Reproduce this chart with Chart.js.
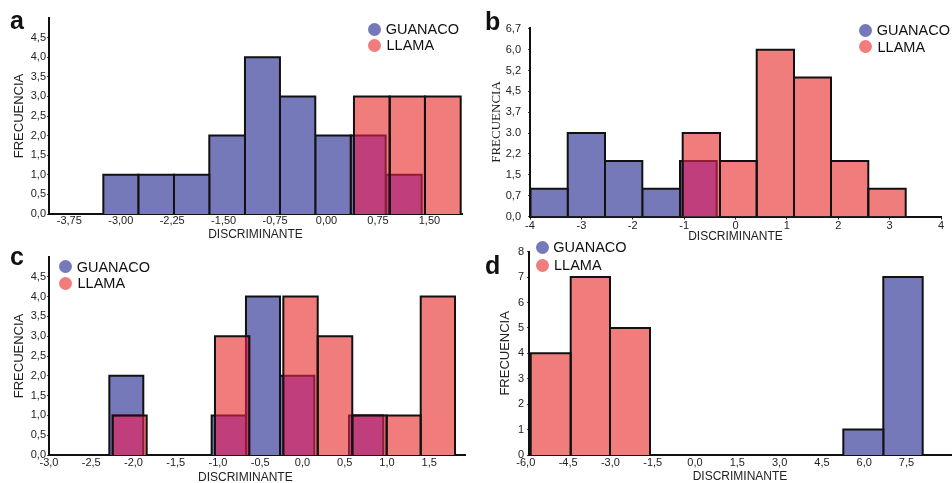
<!DOCTYPE html>
<html>
<head>
<meta charset="utf-8">
<script src="https://cdn.jsdelivr.net/npm/chart.js@4.4.1/dist/chart.umd.min.js"></script>
<style>
  body { margin: 0; width: 952px; height: 483px; overflow: hidden; background: #fff; position: relative; font-family: Arial, "Liberation Sans", sans-serif; }
  canvas { position: absolute; left: 0; top: 0; }
  .letter { position: absolute; font-size: 25px; line-height: 25px; font-weight: bold; color: #111; }
  .dot { position: absolute; width: 13px; height: 13px; border-radius: 50%; }
  .key { position: absolute; font-size: 14.5px; line-height: 14.5px; color: #111; white-space: nowrap; }
</style>
</head>
<body>
<canvas id="chart-a" width="952" height="500"></canvas>
<canvas id="chart-b" width="952" height="500"></canvas>
<canvas id="chart-c" width="952" height="500"></canvas>
<canvas id="chart-d" width="952" height="500"></canvas>
<script>
// panel a
const aXTicks = [-3.75, -3, -2.25, -1.5, -0.75, 0, 0.75, 1.5]
const aXLabels = ['-3,75', '-3,00', '-2,25', '-1,50', '-0,75', '0,00', '0,75', '1,50']
const aYTicks = [0, 0.5, 1, 1.5, 2, 2.5, 3, 3.5, 4, 4.5]
const aYLabels = ['0,0', '0,5', '1,0', '1,5', '2,0', '2,5', '3,0', '3,5', '4,0', '4,5']
const aGuanacoEdges = [-3.254, -2.744, -2.224, -1.709, -1.189, -0.679, -0.164, 0.352, 0.862, 1.387]
const aGuanacoCounts = [1, 1, 1, 2, 4, 3, 2, 2, 1]
const aLlamaEdges = [0.4, 0.921, 1.435, 1.956]
const aLlamaCounts = [3, 3, 3]

// panel b
const bXTicks = [-4, -3, -2, -1, 0, 1, 2, 3, 4]
const bXLabels = ['-4', '-3', '-2', '-1', '0', '1', '2', '3', '4']
const bYTicks = [0, 0.75, 1.5, 2.25, 3, 3.75, 4.5, 5.25, 6, 6.75]
const bYLabels = ['0,0', '0,7', '1,5', '2,2', '3.0', '3,7', '4,5', '5,2', '6,0', '6,7']
const bGuanacoEdges = [-3.99, -3.266, -2.54, -1.814, -1.08, -0.366]
const bGuanacoCounts = [1, 3, 2, 1, 2]
const bLlamaEdges = [-1.028, -0.302, 0.413, 1.139, 1.859, 2.585, 3.313]
const bLlamaCounts = [3, 2, 6, 5, 2, 1]

// panel c
const cXTicks = [-3, -2.5, -2, -1.5, -1, -0.5, 0, 0.5, 1, 1.5]
const cXLabels = ['-3,0', '-2,5', '-2,0', '-1,5', '-1,0', '-0,5', '0,0', '0,5', '1,0', '1,5']
const cYTicks = [0, 0.5, 1, 1.5, 2, 2.5, 3, 3.5, 4, 4.5]
const cYLabels = ['0,0', '0,5', '1,0', '1,5', '2,0', '2,5', '3,0', '3,5', '4,0', '4,5']
const cGuanacoEdges = [-2.286, -1.884, -1.478, -1.075, -0.669, -0.266, 0.14, 0.55, 0.956]
const cGuanacoCounts = [2, 0, 0, 1, 4, 2, 0, 1]
const cLlamaEdges = [-2.246, -1.844, -1.438, -1.036, -0.63, -0.227, 0.18, 0.589, 0.996, 1.399, 1.805]
const cLlamaCounts = [1, 0, 0, 3, 0, 4, 3, 1, 1, 4]

// panel d
const dXTicks = [-6, -4.5, -3, -1.5, 0, 1.5, 3, 4.5, 6, 7.5]
const dXLabels = ['-6,0', '-4,5', '-3,0', '-1,5', '0,0', '1,5', '3,0', '4,5', '6,0', '7,5']
const dYTicks = [0, 1, 2, 3, 4, 5, 6, 7, 8]
const dYLabels = ['0', '1', '2', '3', '4', '5', '6', '7', '8']
const dGuanacoEdges = [5.259, 6.677, 8.074]
const dGuanacoCounts = [1, 7]
const dLlamaEdges = [-5.826, -4.408, -3.014, -1.596]
const dLlamaCounts = [4, 7, 5]

const BLUE = '#7579b9'
const RED = '#f07c7c'
const MIX = '#c03e7b'
const MIX_EDGE = '#8e1d35'
const SANS = 'Arial, "Liberation Sans", sans-serif'
const SERIF = '"Liberation Serif", "Times New Roman", serif'

function bins(edges, counts) {
  const out = []
  counts.forEach((c, i) => {
    if (c > 0) out.push({ x0: edges[i], x1: edges[i + 1], h: c })
  })
  return out
}

// where a llama bin sits over a guanaco bin
function overlaps(gs, ls) {
  const out = []
  gs.forEach(g => ls.forEach(l => {
    const x0 = Math.max(g.x0, l.x0)
    const x1 = Math.min(g.x1, l.x1)
    if (x1 > x0) out.push({ x0: x0, x1: x1, h: Math.min(g.h, l.h) })
  }))
  return out
}

function barSet(b, fillColor, edgeColor, order) {
  return {
    data: [{ x: b.x0, y: 0 }, { x: b.x0, y: b.h }, { x: b.x1, y: b.h }, { x: b.x1, y: 0 }],
    borderColor: edgeColor || 'rgba(0,0,0,0)',
    borderWidth: edgeColor ? 2 : 0,
    backgroundColor: fillColor || 'rgba(0,0,0,0)',
    fill: fillColor ? 'origin' : false,
    pointRadius: 0,
    tension: 0,
    borderJoinStyle: 'miter',
    order: order
  }
}

function panel(id, p) {
  const g = bins(p.gEdges, p.gCounts)
  const l = bins(p.lEdges, p.lCounts)
  const datasets = [
    ...g.map(b => barSet(b, BLUE, '#111', 4)),
    ...l.map(b => barSet(b, RED, null, 3)),
    ...overlaps(g, l).map(b => barSet(b, MIX, MIX_EDGE, 2)),
    ...l.map(b => barSet(b, null, '#111', 1))
  ]
  new Chart(document.getElementById(id), {
    type: 'line',
    data: { datasets: datasets },
    options: {
      responsive: false,
      animation: false,
      events: [],
      layout: { padding: p.pad },
      plugins: { legend: { display: false }, tooltip: { enabled: false } },
      scales: {
        x: {
          type: 'linear',
          min: p.xMin,
          max: p.xMax,
          afterBuildTicks: s => { s.ticks = p.xTicks.map(v => ({ value: v })) },
          afterFit: s => { s.height = p.xH },
          grid: { display: p.xTickLen > 0, drawOnChartArea: false, tickLength: p.xTickLen, color: '#222' },
          border: { display: true, color: '#111', width: 2 },
          ticks: {
            autoSkip: false, maxRotation: 0, padding: p.xPad, color: '#222',
            font: { family: SANS, size: 11 },
            callback: (v, i) => p.xLabels[i]
          },
          title: { display: true, text: p.xTitle || 'DISCRIMINANTE', color: '#222', padding: 0, font: { family: SANS, size: 12 } }
        },
        y: {
          type: 'linear',
          min: 0,
          max: p.yMax,
          afterBuildTicks: s => { s.ticks = p.yTicks.map(v => ({ value: v })) },
          afterFit: s => { s.width = p.yW },
          grid: { display: true, drawOnChartArea: false, tickLength: 2, color: '#444' },
          border: { display: true, color: '#111', width: 2 },
          ticks: {
            autoSkip: false, padding: p.yPad, color: '#222',
            font: { family: SANS, size: 11 },
            callback: (v, i) => p.yLabels[i]
          },
          title: { display: true, text: 'FRECUENCIA', color: '#222', padding: 0, font: { family: p.yFont || SANS, size: 13 } }
        }
      }
    }
  })
}

panel('chart-a', {
  gEdges: aGuanacoEdges, gCounts: aGuanacoCounts, lEdges: aLlamaEdges, lCounts: aLlamaCounts,
  xTicks: aXTicks, xLabels: aXLabels, yTicks: aYTicks, yLabels: aYLabels,
  xMin: -4.046, xMax: 1.975, yMax: 5,
  pad: { left: 11.2, top: 18, right: 490, bottom: 257.8 },
  yW: 37.8, xH: 28.2, xTickLen: 0, xPad: 0, yPad: 1
})

panel('chart-b', {
  gEdges: bGuanacoEdges, gCounts: bGuanacoCounts, lEdges: bLlamaEdges, lCounts: bLlamaCounts,
  xTicks: bXTicks, xLabels: bXLabels, yTicks: bYTicks, yLabels: bYLabels,
  xMin: -4, xMax: 4, yMax: 6.8, yFont: SERIF,
  pad: { left: 489.2, top: 27.5, right: 11, bottom: 256.1 },
  yW: 40.8, xH: 27.4, xTickLen: 3, xPad: 0, yPad: 7
})

// trailing no-break spaces nudge this axis title left, as in the source figure
panel('chart-c', {
  gEdges: cGuanacoEdges, gCounts: cGuanacoCounts, lEdges: cLlamaEdges, lCounts: cLlamaCounts,
  xTicks: cXTicks, xLabels: cXLabels, yTicks: cYTicks, yLabels: cYLabels,
  xMin: -3, xMax: 1.923, yMax: 5, xTitle: 'DISCRIMINANTE\u00a0\u00a0\u00a0\u00a0\u00a0\u00a0\u00a0',
  pad: { left: 11.2, top: 257, right: 487, bottom: 14.8 },
  yW: 37.8, xH: 30.2, xTickLen: 0, xPad: 1, yPad: 1
})

panel('chart-d', {
  gEdges: dGuanacoEdges, gCounts: dGuanacoCounts, lEdges: dLlamaEdges, lCounts: dLlamaCounts,
  xTicks: dXTicks, xLabels: dXLabels, yTicks: dYTicks, yLabels: dYLabels,
  xMin: -5.887, xMax: 9.078, yMax: 8,
  pad: { left: 497.2, top: 251.7, right: 1, bottom: 16.1 },
  yW: 31.8, xH: 28.9, xTickLen: 0, xPad: 1, yPad: 3
})

// panel letters and legends as page text
function letter(ch, x, baseline) {
  const el = document.createElement('div')
  el.className = 'letter'
  el.textContent = ch
  el.style.left = x + 'px'
  el.style.top = (baseline - 21.2) + 'px'
  document.body.appendChild(el)
}
function key(cx, cy, tx, color, text) {
  const d = document.createElement('div')
  d.className = 'dot'
  d.style.background = color
  d.style.left = (cx - 6.5) + 'px'
  d.style.top = (cy - 6.5) + 'px'
  document.body.appendChild(d)
  const t = document.createElement('div')
  t.className = 'key'
  t.textContent = text
  t.style.left = tx + 'px'
  t.style.top = (cy - 7.1) + 'px'
  document.body.appendChild(t)
}

letter('a', 10, 29.3)
letter('b', 485, 30)
letter('c', 10, 265)
letter('d', 485, 274)

key(374.3, 29, 385.7, BLUE, 'GUANACO')
key(374.3, 45, 386.5, RED, 'LLAMA')
key(865, 30, 876.7, BLUE, 'GUANACO')
key(865, 46.7, 877.5, RED, 'LLAMA')
key(65.3, 266.7, 76.7, BLUE, 'GUANACO')
key(65.3, 283.3, 77.5, RED, 'LLAMA')
key(542, 247.3, 553.3, BLUE, 'GUANACO')
key(542, 265, 554, RED, 'LLAMA')
</script>
</body>
</html>
